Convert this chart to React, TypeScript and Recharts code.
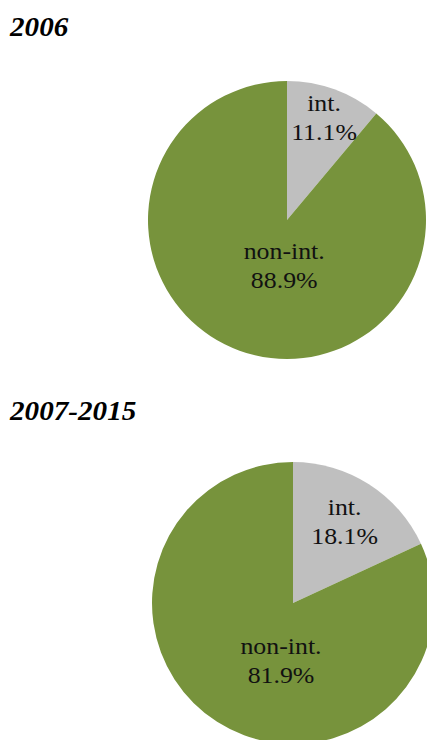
import React from 'react';
import { PieChart, Pie, Cell } from 'recharts';

const periods = ['2006', '2007-2015'];
const categories = ['int.', 'non-int.'];
const shares2006 = [11.1, 88.9];
const shares2007to2015 = [18.1, 81.9];
const colors = ['#BFBFBF', '#77933C'];

const build = (vals: number[]) => categories.map((name, i) => ({ name, value: vals[i] }));
const data2006 = build(shares2006);
const data2007 = build(shares2007to2015);

const RAD = Math.PI / 180;
const FONT = "'Liberation Serif', Tinos, 'Times New Roman', 'DejaVu Serif', serif";
const STRETCH = 1.1;

type LabelCfg = { smallK: number; bigDx: number; bigDy: number };

const makeLabel = (cfg: LabelCfg) => (props: any) => {
  const { cx, cy, midAngle, outerRadius, percent, name, index } = props;
  let x: number;
  let y: number;
  if (percent < 0.5) {
    x = cx + cfg.smallK * outerRadius * Math.cos(-midAngle * RAD);
    y = cy + cfg.smallK * outerRadius * Math.sin(-midAngle * RAD);
  } else {
    x = cx + cfg.bigDx * outerRadius;
    y = cy + cfg.bigDy * outerRadius;
  }
  return (
    <g key={`l-${index}`} transform={`translate(${x},0) scale(${STRETCH},1) translate(${-x},0)`}>
      <text x={x} y={y} textAnchor="middle" fill="#111" style={{ fontFamily: FONT, fontSize: 23.5 }}>
        <tspan x={x} y={y - 7}>{name}</tspan>
        <tspan x={x} y={y + 22}>{`${(percent * 100).toFixed(1)}%`}</tspan>
      </text>
    </g>
  );
};

const titleStyle: React.CSSProperties = {
  position: 'absolute',
  left: 10,
  fontFamily: FONT,
  fontWeight: 'bold',
  fontStyle: 'italic',
  fontSize: 26.5,
  lineHeight: '30px',
  color: '#000',
  margin: 0,
  transform: `scaleX(${STRETCH})`,
  transformOrigin: 'left top',
  whiteSpace: 'nowrap',
};

export default function App() {
  return (
    <div style={{ position: 'absolute', left: 0, top: 0, width: 427, height: 740, overflow: 'hidden', background: '#fff' }}>
      <PieChart width={427} height={740} margin={{ top: 0, right: 0, bottom: 0, left: 0 }}>
        <Pie
          data={data2006}
          dataKey="value"
          nameKey="name"
          cx={287}
          cy={220}
          outerRadius={139}
          startAngle={90}
          endAngle={-270}
          stroke="none"
          isAnimationActive={false}
          labelLine={false}
          label={makeLabel({ smallK: 0.78, bigDx: -0.02, bigDy: 0.33 })}
        >
          {data2006.map((d, i) => (
            <Cell key={d.name} fill={colors[i]} />
          ))}
        </Pie>
        <Pie
          data={data2007}
          dataKey="value"
          nameKey="name"
          cx={293}
          cy={603}
          outerRadius={141}
          startAngle={90}
          endAngle={-270}
          stroke="none"
          isAnimationActive={false}
          labelLine={false}
          label={makeLabel({ smallK: 0.68, bigDx: -0.085, bigDy: 0.41 })}
        >
          {data2007.map((d, i) => (
            <Cell key={d.name} fill={colors[i]} />
          ))}
        </Pie>
      </PieChart>
      <div style={{ ...titleStyle, top: 12 }}>{periods[0]}</div>
      <div style={{ ...titleStyle, top: 396 }}>{periods[1]}</div>
    </div>
  );
}
